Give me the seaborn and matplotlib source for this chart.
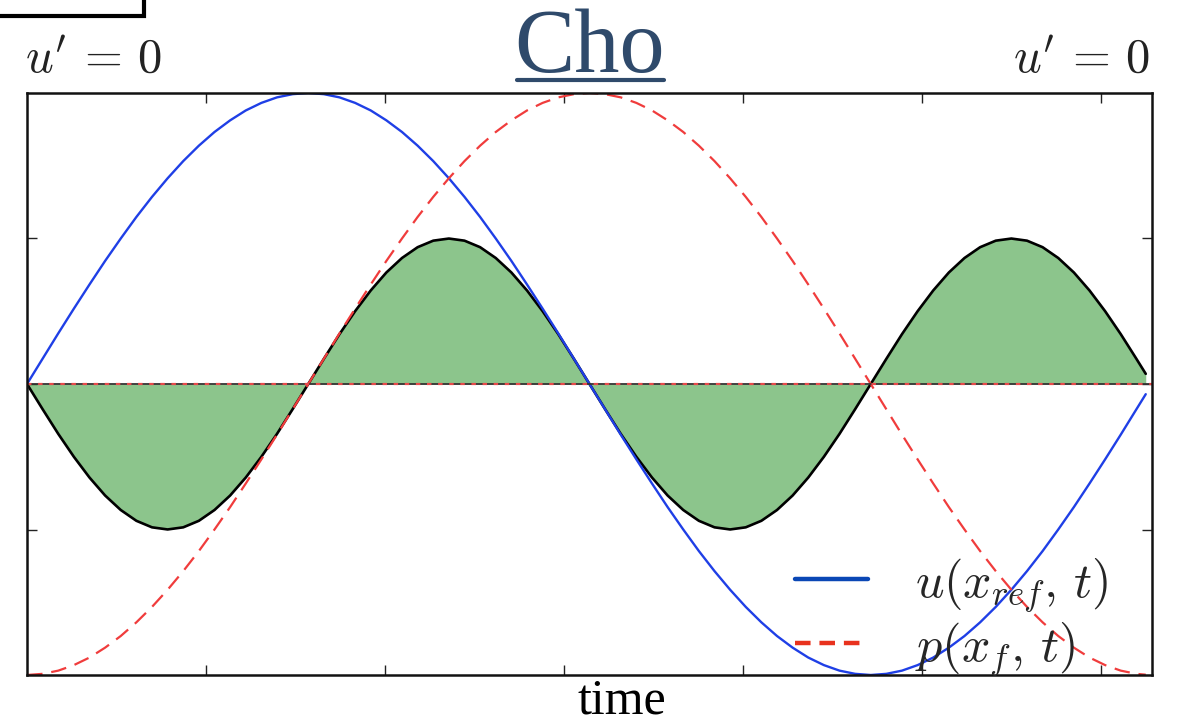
import numpy as np
import matplotlib
matplotlib.use("Agg")
import matplotlib.pyplot as plt
from matplotlib.lines import Line2D
from matplotlib.patches import Rectangle
import seaborn as sns

# Phase of the oscillation (degrees) and the two signals at that phase
time_deg = [0, 5, 10, 15, 20, 25, 30, 35, 40, 45, 50, 55, 60, 65, 70, 75, 80, 85,
            90, 95, 100, 105, 110, 115, 120, 125, 130, 135, 140, 145, 150, 155, 160, 165, 170, 175,
            180, 185, 190, 195, 200, 205, 210, 215, 220, 225, 230, 235, 240, 245, 250, 255, 260, 265,
            270, 275, 280, 285, 290, 295, 300, 305, 310, 315, 320, 325, 330, 335, 340, 345, 350, 355,
            358]

u_ref = [0.000, 0.087, 0.174, 0.259, 0.342, 0.423, 0.500, 0.574, 0.643,
         0.707, 0.766, 0.819, 0.866, 0.906, 0.940, 0.966, 0.985, 0.996,
         1.000, 0.996, 0.985, 0.966, 0.940, 0.906, 0.866, 0.819, 0.766,
         0.707, 0.643, 0.574, 0.500, 0.423, 0.342, 0.259, 0.174, 0.087,
         0.000, -0.087, -0.174, -0.259, -0.342, -0.423, -0.500, -0.574, -0.643,
         -0.707, -0.766, -0.819, -0.866, -0.906, -0.940, -0.966, -0.985, -0.996,
         -1.000, -0.996, -0.985, -0.966, -0.940, -0.906, -0.866, -0.819, -0.766,
         -0.707, -0.643, -0.574, -0.500, -0.423, -0.342, -0.259, -0.174, -0.087,
         -0.035]

p_f = [-1.000, -0.996, -0.985, -0.966, -0.940, -0.906, -0.866, -0.819, -0.766,
       -0.707, -0.643, -0.574, -0.500, -0.423, -0.342, -0.259, -0.174, -0.087,
       0.000, 0.087, 0.174, 0.259, 0.342, 0.423, 0.500, 0.574, 0.643,
       0.707, 0.766, 0.819, 0.866, 0.906, 0.940, 0.966, 0.985, 0.996,
       1.000, 0.996, 0.985, 0.966, 0.940, 0.906, 0.866, 0.819, 0.766,
       0.707, 0.643, 0.574, 0.500, 0.423, 0.342, 0.259, 0.174, 0.087,
       0.000, -0.087, -0.174, -0.259, -0.342, -0.423, -0.500, -0.574, -0.643,
       -0.707, -0.766, -0.819, -0.866, -0.906, -0.940, -0.966, -0.985, -0.996,
       -0.999]

x_ticks = [1, 2, 3, 4, 5, 6]
y_ticks = [-0.5, 0.0, 0.5]
legend_labels = [r"$u(x_{ref},\, t)$", r"$p(x_f,\, t)$"]

sns.set_theme(style="white")
plt.rcParams["font.family"] = ["Liberation Serif", "DejaVu Serif"]
plt.rcParams["mathtext.fontset"] = "cm"

t = np.radians(time_deg)
u = np.array(u_ref)
p = np.array(p_f)
up = u * p  # Rayleigh product

W, H = 1177, 722
fig = plt.figure(figsize=(W / 100, H / 100), dpi=100)
fig.patch.set_facecolor("white")
ax = fig.add_axes([27 / W, 1 - 675 / H, 1125 / W, 582 / H])
ax.set_facecolor("white")

ax.fill_between(t, up, 0, color="#008000", alpha=0.45, linewidth=0)
sns.lineplot(x=t, y=up, ax=ax, color="black", linewidth=1.9, sort=False)
sns.lineplot(x=t, y=u, ax=ax, color="#1f3fe6", linewidth=1.7, sort=False)
sns.lineplot(x=t, y=p, ax=ax, color="#f03c3c", linewidth=1.6, sort=False)
ax.lines[-1].set_dashes((7, 4))

ax.axhline(0, color="#333333", linewidth=1.3)
ax.axhline(0, color="#e84a4a", linewidth=1.6, dashes=(2, 3))

ax.set_xlim(0, 2 * np.pi)
ax.set_ylim(-1, 1)
ax.set_xticks(x_ticks)
ax.set_yticks(y_ticks)
ax.set_xticklabels([])
ax.set_yticklabels([])
ax.tick_params(direction="in", length=7, width=1, colors="#222222",
               top=True, right=True, bottom=True, left=True)
for s in ax.spines.values():
    s.set_visible(True)
    s.set_color("#111111")
    s.set_linewidth(1.8)
ax.set_xlabel("")
ax.set_ylabel("")

handles = [Line2D([], [], color="#0a47b5", linewidth=3.2),
           Line2D([], [], color="#e8321e", linewidth=3.2, dashes=(3.5, 2))]
ax.legend(handles, legend_labels, loc="upper left",
          bbox_to_anchor=(795 / W, 1 - 556 / H), bbox_transform=fig.transFigure,
          frameon=False, fontsize=36, handlelength=1.45, handletextpad=0.95,
          labelspacing=0.12, borderpad=0, borderaxespad=0)

# Title with underline
fig.text(590 / W, 1 - 72 / H, "Cho", ha="center", va="baseline",
         fontsize=65, color="#2f4a6b")
fig.add_artist(Line2D([517 / W, 664 / W], [1 - 80 / H, 1 - 80 / H],
                      transform=fig.transFigure, color="#2f4a6b", linewidth=3))

# Boundary annotations
fig.text(25 / W, 1 - 73 / H, r"$u'\,=\,0$", ha="left", va="baseline",
         fontsize=35, color="#222222")
fig.text(1150 / W, 1 - 73 / H, r"$u'\,=\,0$", ha="right", va="baseline",
         fontsize=35, color="#222222")

fig.text(622 / W, 1 - 713 / H, "time", ha="center", va="baseline",
         fontsize=36, color="black")

# Frame fragment at the top-left corner
fig.add_artist(Rectangle((-10 / W, 1 - 16 / H), 154 / W, 40 / H,
                         transform=fig.transFigure, fill=False,
                         edgecolor="black", linewidth=3))

fig.savefig("out.png", dpi=100, facecolor="white")
